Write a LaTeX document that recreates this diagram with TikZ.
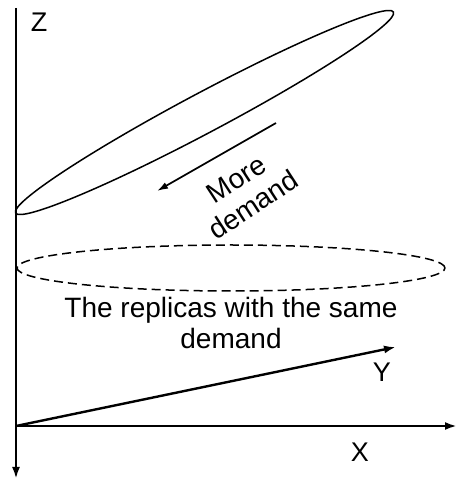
\documentclass[tikz,border=0pt]{standalone}
\usepackage{fontspec}
\setmainfont{Liberation Sans}
\usepackage{tikz}
\usetikzlibrary{arrows.meta}

\begin{document}
\begin{tikzpicture}
 [x=1pt, y=1pt,
  axis line/.style={line width=2.4pt, -{Latex[length=12pt,width=8pt]}},
  ring line/.style={line width=1.5pt},
  axis label/.style={font=\fontsize{27}{31}\selectfont, inner sep=0pt},
  text label/.style={font=\fontsize{28}{31}\selectfont, align=center, inner sep=0pt}]

 \useasboundingbox (0,0) rectangle (458,482);

 \coordinate (o) at (16,56);
 \coordinate (ztop) at (16,474);
 \coordinate (zbot) at (16,3);
 \coordinate (xend) at (457,56);
 \coordinate (yend) at (396,135);

 \draw[line width=2.4pt] (ztop) -- (o);
 \draw[axis line] (o) -- (zbot);
 \draw[axis line] (o) -- (xend);
 \draw[axis line] (o) -- (yend);

 \node[axis label] (z) at (39,460) {Z};
 \node[axis label] (x) at (360,30) {X};
 \node[axis label] (y) at (382,110) {Y};

 % demand rings
 \draw[ring line, rotate around={28:(204.5,369.5)}] (204.5,369.5) ellipse (214 and 20);
 \draw[ring line, dashed, dash pattern=on 9pt off 5pt] (231,214) ellipse (214 and 23);

 \coordinate (mfrom) at (276,359);
 \coordinate (mto) at (157,291);
 \draw[line width=1.7pt, -{Latex[length=11pt,width=7pt]}] (mfrom) -- (mto);

 \node[text label, rotate=33] (more) at (245,290) {More\\demand};
 \node[text label] (same) at (231,159) {The replicas with the same\\demand};

\end{tikzpicture}
\end{document}
